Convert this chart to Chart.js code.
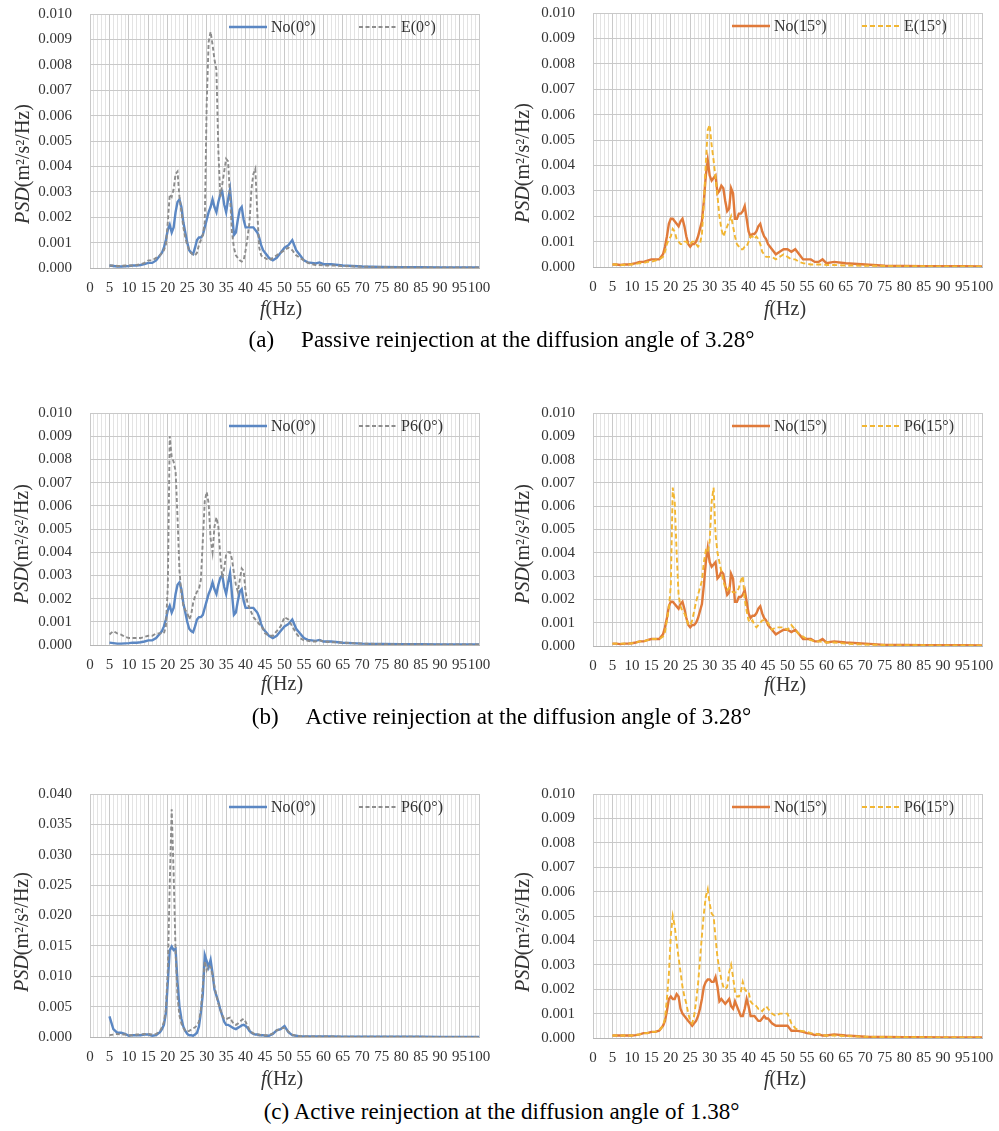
<!DOCTYPE html>
<html>
<head>
<meta charset="utf-8">
<script src="https://cdn.jsdelivr.net/npm/chart.js@4.4.0/dist/chart.umd.min.js"></script>
<style>
  html, body { margin: 0; padding: 0; background: #fff; }
  #page { position: relative; width: 999px; height: 1131px; overflow: hidden;
          font-family: "Liberation Serif", "Times New Roman", serif; color: #000; }
  #page canvas { position: absolute; display: block; }
  .ytitle { position: absolute; font-size: 20px; white-space: nowrap; color: #333;
            transform: translate(-50%, -50%) rotate(-90deg); }
  .xtitle { position: absolute; font-size: 20px; white-space: nowrap; color: #333;
            transform: translate(-50%, -50%); }
  .cap { position: absolute; left: 2px; width: 999px; text-align: center; font-size: 23px;
         white-space: nowrap; transform: translateY(-50%); }
  .gap { display: inline-block; width: 27px; }
</style>
</head>
<body>
<div id="page">
  <canvas id="cA0"></canvas><canvas id="cA15"></canvas>
  <canvas id="cB0"></canvas><canvas id="cB15"></canvas>
  <canvas id="cC0"></canvas><canvas id="cC15"></canvas>

  <div class="ytitle" style="left:22px;top:164px"><i>PSD</i>(m²/s²/Hz)</div>
  <div class="ytitle" style="left:522px;top:163px"><i>PSD</i>(m²/s²/Hz)</div>
  <div class="ytitle" style="left:21px;top:544px"><i>PSD</i>(m²/s²/Hz)</div>
  <div class="ytitle" style="left:522px;top:544px"><i>PSD</i>(m²/s²/Hz)</div>
  <div class="ytitle" style="left:21px;top:932px"><i>PSD</i>(m²/s²/Hz)</div>
  <div class="ytitle" style="left:522px;top:932px"><i>PSD</i>(m²/s²/Hz)</div>

  <div class="xtitle" style="left:281px;top:308px"><i>f</i>(Hz)</div>
  <div class="xtitle" style="left:785px;top:308px"><i>f</i>(Hz)</div>
  <div class="xtitle" style="left:282px;top:683px"><i>f</i>(Hz)</div>
  <div class="xtitle" style="left:785px;top:684px"><i>f</i>(Hz)</div>
  <div class="xtitle" style="left:282px;top:1078px"><i>f</i>(Hz)</div>
  <div class="xtitle" style="left:785px;top:1078px"><i>f</i>(Hz)</div>

  <div class="cap" style="top:340px">(a)<span class="gap"></span>Passive reinjection at the diffusion angle of 3.28°</div>
  <div class="cap" style="top:717px">(b)<span class="gap"></span>Active reinjection at the diffusion angle of 3.28°</div>
  <div class="cap" style="top:1112px">(c) Active reinjection at the diffusion angle of 1.38°</div>
</div>

<script>
// Frequency grid shared by every PSD series (Hz)
const FREQ = [
  5, 6, 7, 8, 9, 10, 11, 12, 13, 14, 15, 16, 17, 18,
  18.5, 19, 19.5, 20, 20.5, 21, 21.5, 22, 22.5, 23, 23.5, 24, 24.5, 25, 25.5, 26, 26.5, 27, 27.5, 28, 28.5, 29, 29.5, 30, 30.5, 31, 31.5,
  32, 32.5, 33, 33.5, 34, 34.5, 35, 35.5, 36, 36.5, 37, 37.5, 38, 38.5, 39, 39.5, 40, 40.5, 41, 41.5, 42, 42.5, 43, 43.5, 44, 44.5, 45,
  46, 47, 48, 49, 50, 51, 52, 53, 54, 55, 56, 57, 58, 59, 60,
  62, 65, 70, 75, 80, 85, 90, 95, 100
];

// Tick values
const X_TICKS = [0, 5, 10, 15, 20, 25, 30, 35, 40, 45, 50, 55, 60, 65, 70, 75, 80, 85, 90, 95, 100];
const Y_TICKS_010 = [0, 0.001, 0.002, 0.003, 0.004, 0.005, 0.006, 0.007, 0.008, 0.009, 0.010];
const Y_TICKS_040 = [0, 0.005, 0.010, 0.015, 0.020, 0.025, 0.030, 0.035, 0.040];

// No reinjection, 0° (diffusion angle 3.28°)
const NO_0 = [
  0.0001, 0.00008, 0.00006, 0.00006, 0.00007, 0.00008, 0.0001, 0.0001, 0.00012, 0.00015, 0.0002, 0.0002, 0.0003, 0.0005,
  0.0006, 0.0008, 0.0011, 0.0015, 0.0017, 0.0014, 0.0016, 0.0022, 0.0026, 0.0027, 0.0024, 0.0018, 0.0014, 0.001, 0.0007, 0.0006, 0.00055, 0.0008, 0.0011, 0.0012, 0.0012, 0.0013, 0.0016, 0.0019, 0.0022, 0.0024, 0.0027,
  0.0024, 0.0022, 0.0026, 0.0029, 0.003, 0.0025, 0.0022, 0.0027, 0.0031, 0.0022, 0.0013, 0.0014, 0.0019, 0.0023, 0.0024, 0.0019, 0.0016, 0.0016, 0.0016, 0.0016, 0.0016, 0.0015, 0.0014, 0.0012, 0.0009, 0.0007, 0.0006,
  0.0004, 0.0003, 0.0004, 0.0006, 0.0008, 0.0009, 0.0011, 0.0007, 0.0005, 0.0003, 0.00022, 0.0002, 0.00018, 0.00022, 0.00015,
  0.00015, 0.0001, 0.00006, 0.00004, 0.00003, 0.00003, 0.00002, 0.00002, 0.00002
];

// Passive reinjection E, 0°
const E_0 = [
  0.0001, 0.0001, 0.00008, 0.00008, 0.0001, 0.0001, 0.0001, 0.00012, 0.00015, 0.0002, 0.0003, 0.0003, 0.0004, 0.0005,
  0.0006, 0.0007, 0.0009, 0.0018, 0.0029, 0.0028, 0.0031, 0.0037, 0.0038, 0.0028, 0.0022, 0.0016, 0.0012, 0.0009, 0.0007, 0.0006, 0.0005, 0.0005, 0.0006, 0.0009, 0.0011, 0.0013, 0.0018, 0.0065, 0.0089, 0.0093, 0.0088,
  0.0082, 0.0078, 0.0046, 0.0028, 0.0033, 0.0038, 0.0043, 0.0042, 0.0028, 0.0014, 0.0008, 0.0005, 0.0004, 0.0003, 0.00025, 0.0003, 0.0007, 0.0012, 0.0018, 0.0031, 0.0037, 0.0039, 0.0022, 0.0008, 0.0005, 0.0004, 0.0004,
  0.0003, 0.0004, 0.0005, 0.0006, 0.0007, 0.0008, 0.0007, 0.0005, 0.0004, 0.0003, 0.0002, 0.00015, 0.00012, 0.00012, 0.0001,
  0.0001, 0.00008, 0.00005, 0.00004, 0.00003, 0.00002, 0.00002, 0.00002, 0.00002
];

// No reinjection, 15° (diffusion angle 3.28°)
const NO_15 = [
  0.0001, 0.0001, 0.00008, 0.0001, 0.0001, 0.00012, 0.00015, 0.0002, 0.0002, 0.00025, 0.0003, 0.0003, 0.0003, 0.0005,
  0.0008, 0.0012, 0.0017, 0.0019, 0.0019, 0.0018, 0.0017, 0.0016, 0.0018, 0.0019, 0.0016, 0.0012, 0.0009, 0.0008, 0.0009, 0.0009, 0.001, 0.0012, 0.0015, 0.0018, 0.0026, 0.0036, 0.0042, 0.0036, 0.0034, 0.0035, 0.0036,
  0.0029, 0.003, 0.0032, 0.0031, 0.0026, 0.0022, 0.0023, 0.0031, 0.0029, 0.0019, 0.0019, 0.0021, 0.0021, 0.0022, 0.0024, 0.0019, 0.0014, 0.0012, 0.0013, 0.0013, 0.0014, 0.0016, 0.0017, 0.0014, 0.0012, 0.0011, 0.0009,
  0.0007, 0.0005, 0.0006, 0.0007, 0.0007, 0.0006, 0.0007, 0.0005, 0.0003, 0.0003, 0.0003, 0.0002, 0.0002, 0.0003, 0.00015,
  0.0002, 0.00015, 0.0001, 0.00005, 0.00004, 0.00003, 0.00003, 0.00003, 0.00002
];

// Passive reinjection E, 15°
const E_15 = [
  0.0001, 0.0001, 0.00008, 0.00008, 0.0001, 0.0001, 0.00012, 0.00015, 0.00015, 0.0002, 0.0002, 0.00025, 0.0003, 0.0004,
  0.0006, 0.0009, 0.0011, 0.0012, 0.0015, 0.0014, 0.0011, 0.001, 0.0009, 0.0009, 0.001, 0.001, 0.0009, 0.0009, 0.001, 0.001, 0.0009, 0.0008, 0.0009, 0.0013, 0.0025, 0.0041, 0.0054, 0.0056, 0.0048, 0.0042, 0.0035,
  0.0028, 0.002, 0.0015, 0.0012, 0.0014, 0.0016, 0.0018, 0.002, 0.0016, 0.0012, 0.0009, 0.0008, 0.0007, 0.0007, 0.0008, 0.0008, 0.001, 0.0012, 0.0012, 0.0011, 0.0012, 0.0011, 0.0009, 0.0006, 0.0005, 0.0004, 0.0004,
  0.0004, 0.0003, 0.0004, 0.0005, 0.0004, 0.0003, 0.0003, 0.0002, 0.00015, 0.00013, 0.0001, 0.0001, 0.0001, 0.0001, 0.00008,
  0.00008, 0.00006, 0.00005, 0.00004, 0.00003, 0.00003, 0.00002, 0.00002, 0.00002
];

// Active reinjection P6, 0° (diffusion angle 3.28°)
const P6_0_A328 = [
  0.00045, 0.0006, 0.0005, 0.00045, 0.00035, 0.0003, 0.0003, 0.0003, 0.0003, 0.00035, 0.0004, 0.0004, 0.0005, 0.0005,
  0.0005, 0.0005, 0.0008, 0.0025, 0.009, 0.0081, 0.0079, 0.0075, 0.0055, 0.0032, 0.0022, 0.0017, 0.0015, 0.0014, 0.0011, 0.0013, 0.0018, 0.0021, 0.0023, 0.0024, 0.0028, 0.0045, 0.0062, 0.0066, 0.0061, 0.0046, 0.004,
  0.0051, 0.0055, 0.0051, 0.0038, 0.0029, 0.0033, 0.0039, 0.004, 0.004, 0.0037, 0.0031, 0.0026, 0.0023, 0.0028, 0.0033, 0.0032, 0.0023, 0.0018, 0.0016, 0.0014, 0.0012, 0.0011, 0.001, 0.0009, 0.0008, 0.0007, 0.0005,
  0.0004, 0.0004, 0.0006, 0.0008, 0.0012, 0.0011, 0.0008, 0.0005, 0.0003, 0.0002, 0.00018, 0.00015, 0.00015, 0.0002, 0.00015,
  0.00012, 0.0001, 0.00006, 0.00004, 0.00003, 0.00003, 0.00002, 0.00002, 0.00002
];

// Active reinjection P6, 15° (diffusion angle 3.28°)
const P6_15_A328 = [
  0.0001, 0.0001, 0.0001, 0.0001, 0.0001, 0.00012, 0.00015, 0.0002, 0.0002, 0.00025, 0.0003, 0.0003, 0.0003, 0.0004,
  0.0006, 0.0011, 0.0016, 0.0026, 0.0068, 0.0062, 0.004, 0.0022, 0.0017, 0.0015, 0.0014, 0.0012, 0.0009, 0.0009, 0.0011, 0.0015, 0.0019, 0.0022, 0.0025, 0.0028, 0.0036, 0.0041, 0.004, 0.0045, 0.0062, 0.0068, 0.0048,
  0.004, 0.0036, 0.0032, 0.0028, 0.0025, 0.0024, 0.0025, 0.0024, 0.0023, 0.0023, 0.0023, 0.0025, 0.0028, 0.003, 0.002, 0.0015, 0.0011, 0.001, 0.0011, 0.0009, 0.0008, 0.0009, 0.001, 0.0011, 0.0011, 0.001, 0.001,
  0.0007, 0.0008, 0.0008, 0.0008, 0.0007, 0.0009, 0.0007, 0.0005, 0.0004, 0.0003, 0.00025, 0.0002, 0.0002, 0.00018, 0.00015,
  0.00015, 0.0001, 0.00006, 0.00004, 0.00003, 0.00003, 0.00002, 0.00002, 0.00002
];

// No reinjection, 0° (diffusion angle 1.38°)
const NO_0_A138 = [
  0.0034, 0.0013, 0.0007, 0.0007, 0.0005, 0.0002, 0.0003, 0.0003, 0.0003, 0.0004, 0.0004, 0.0002, 0.0003, 0.0008,
  0.0013, 0.002, 0.0039, 0.009, 0.0143, 0.0149, 0.0143, 0.0145, 0.009, 0.005, 0.003, 0.0017, 0.001, 0.0005, 0.0003, 0.0003, 0.0002, 0.0004, 0.0007, 0.0017, 0.004, 0.007, 0.0135, 0.0125, 0.0115, 0.0127, 0.0105,
  0.0078, 0.0068, 0.0058, 0.0045, 0.0035, 0.0025, 0.002, 0.002, 0.0018, 0.0016, 0.0014, 0.0013, 0.0015, 0.0017, 0.0019, 0.002, 0.0018, 0.0015, 0.001, 0.0007, 0.0005, 0.0004, 0.0004, 0.0003, 0.0003, 0.0003, 0.0002,
  0.0002, 0.0005, 0.0011, 0.0013, 0.0018, 0.0008, 0.0003, 0.0002, 0.0001, 0.0001, 0.0001, 0.0001, 0.0001, 0.0001, 0.0001,
  0.00008, 0.00006, 0.00005, 0.00004, 0.00003, 0.00003, 0.00002, 0.00002, 0.00002
];

// Active reinjection P6, 0° (diffusion angle 1.38°)
const P6_0_A138 = [
  0.0003, 0.0004, 0.0005, 0.0004, 0.0004, 0.0003, 0.0003, 0.0004, 0.0004, 0.0005, 0.0005, 0.0004, 0.0005, 0.001,
  0.0016, 0.0025, 0.0045, 0.011, 0.025, 0.0375, 0.027, 0.014, 0.0065, 0.0035, 0.0022, 0.0015, 0.001, 0.0009, 0.001, 0.0012, 0.0014, 0.0016, 0.0019, 0.0025, 0.0045, 0.0085, 0.0125, 0.011, 0.0118, 0.0115, 0.0102,
  0.0083, 0.0068, 0.0055, 0.0045, 0.0036, 0.003, 0.0029, 0.0031, 0.0032, 0.0026, 0.0021, 0.002, 0.0022, 0.0025, 0.0028, 0.003, 0.0025, 0.0018, 0.0012, 0.0008, 0.0006, 0.0005, 0.0004, 0.0004, 0.0003, 0.0003, 0.0003,
  0.0003, 0.0006, 0.0011, 0.0014, 0.0015, 0.0009, 0.0004, 0.0002, 0.00015, 0.0001, 0.0001, 0.0001, 0.0001, 0.0001, 0.0001,
  0.00008, 0.00006, 0.00005, 0.00004, 0.00003, 0.00003, 0.00002, 0.00002, 0.00002
];

// No reinjection, 15° (diffusion angle 1.38°)
const NO_15_A138 = [
  0.0001, 0.0001, 0.0001, 0.0001, 0.0001, 0.0001, 0.00012, 0.00015, 0.0002, 0.0002, 0.00025, 0.00025, 0.0003, 0.0005,
  0.0007, 0.0011, 0.0016, 0.0017, 0.0016, 0.0016, 0.0018, 0.0017, 0.0012, 0.001, 0.0009, 0.0008, 0.0007, 0.0006, 0.0005, 0.0006, 0.0007, 0.0009, 0.0012, 0.0016, 0.0021, 0.0023, 0.0024, 0.0024, 0.0023, 0.0023, 0.0025,
  0.0021, 0.0015, 0.0016, 0.0015, 0.0014, 0.0015, 0.0016, 0.0013, 0.0012, 0.0015, 0.0013, 0.0011, 0.0009, 0.0009, 0.0012, 0.0016, 0.0013, 0.0009, 0.0009, 0.0009, 0.0008, 0.0007, 0.0007, 0.0008, 0.0009, 0.0008, 0.0008,
  0.0006, 0.0005, 0.0005, 0.0005, 0.0005, 0.0003, 0.0003, 0.00028, 0.00025, 0.0002, 0.00018, 0.00012, 0.00015, 0.0001, 0.0001,
  0.00015, 0.0001, 0.00005, 0.00004, 0.00003, 0.00003, 0.00002, 0.00002, 0.00002
];

// Active reinjection P6, 15° (diffusion angle 1.38°)
const P6_15_A138 = [
  0.0001, 0.0001, 0.0001, 0.0001, 0.0001, 0.0001, 0.00012, 0.00015, 0.0002, 0.0002, 0.00025, 0.00025, 0.0003, 0.0005,
  0.0008, 0.0016, 0.0026, 0.0042, 0.005, 0.0046, 0.0039, 0.0033, 0.0027, 0.0021, 0.0017, 0.0014, 0.001, 0.0007, 0.0006, 0.0009, 0.0015, 0.0022, 0.0032, 0.0042, 0.0051, 0.0058, 0.0061, 0.0055, 0.0051, 0.005, 0.0041,
  0.0033, 0.0028, 0.0024, 0.0021, 0.002, 0.0021, 0.0027, 0.003, 0.0025, 0.0019, 0.0017, 0.0017, 0.0019, 0.0023, 0.002, 0.0019, 0.0019, 0.0015, 0.0014, 0.0014, 0.0013, 0.0012, 0.0012, 0.0011, 0.0012, 0.0013, 0.0012,
  0.001, 0.0009, 0.001, 0.001, 0.001, 0.0006, 0.0004, 0.0003, 0.00028, 0.00025, 0.0002, 0.00018, 0.00015, 0.00012, 0.0001,
  0.0001, 0.00008, 0.00005, 0.00004, 0.00003, 0.00003, 0.00002, 0.00002, 0.00002
];

// Series styles
const BLUE = '#5b87c3', GREY = '#8c8c8c', ORANGE = '#e07a3a', GOLD = '#f2b632';
const TEXT = '#333333', GRID = '#c9c9c9', GRID_MINOR = '#e3e3e3';
const TICK_FONT = { family: '"Liberation Serif", "Times New Roman", serif', size: 15 };

// Legend drawn inside the plot area, one sample line plus label per dataset
const inlineLegend = {
  id: 'inlineLegend',
  afterDatasetsDraw(chart) {
    const { ctx, chartArea } = chart;
    const offsets = [139, 269];
    ctx.save();
    ctx.font = '16px "Liberation Serif", "Times New Roman", serif';
    ctx.textBaseline = 'middle';
    chart.data.datasets.forEach((ds, i) => {
      const x = chartArea.left + offsets[i];
      const y = chartArea.top + 13;
      ctx.strokeStyle = ds.borderColor;
      ctx.lineWidth = ds.borderWidth;
      ctx.setLineDash(ds.borderDash || []);
      ctx.beginPath();
      ctx.moveTo(x, y);
      ctx.lineTo(x + 38, y);
      ctx.stroke();
      ctx.setLineDash([]);
      ctx.fillStyle = TEXT;
      ctx.fillText(ds.label, x + 42, y + 1);
    });
    ctx.restore();
  }
};

function series(values) {
  return FREQ.map((f, i) => ({ x: f, y: values[i] }));
}

function psdChart(id, box, yTicks, base, test) {
  const canvas = document.getElementById(id);
  const padTop = 10, xAxisH = 34, width = 499;
  const height = padTop + (box.b - box.t) + xAxisH;
  canvas.width = width;
  canvas.height = height;
  canvas.style.left = box.x0 + 'px';
  canvas.style.top = (box.t - padTop) + 'px';
  canvas.style.width = width + 'px';
  canvas.style.height = height + 'px';

  return new Chart(canvas, {
    type: 'line',
    data: {
      datasets: [
        { label: base.label, data: series(base.values), borderColor: base.color,
          borderWidth: 2.4, pointRadius: 0, tension: 0, order: 1 },
        { label: test.label, data: series(test.values), borderColor: test.color,
          borderWidth: 1.9, borderDash: test.dash, pointRadius: 0, tension: 0, order: 0 }
      ]
    },
    options: {
      responsive: false,
      animation: false,
      devicePixelRatio: 1,
      layout: { padding: { top: padTop, left: 0, bottom: 0, right: (box.x0 + width) - box.r } },
      plugins: { legend: { display: false }, tooltip: { enabled: false } },
      scales: {
        x: {
          type: 'linear', position: 'bottom', min: 0, max: 100,
          afterBuildTicks: s => { s.ticks = X_TICKS.map(v => ({ value: v })); },
          ticks: { autoSkip: false, maxRotation: 0, minRotation: 0, padding: 11,
                   color: TEXT, font: TICK_FONT, callback: v => String(v) },
          grid: { color: GRID, lineWidth: 1, drawTicks: false },
          border: { color: '#b5b5b5', width: 1 },
          afterFit: s => { s.height = xAxisH; s.paddingLeft = 0; s.paddingRight = 0; }
        },
        xMinor: {
          type: 'linear', position: 'bottom', min: 0, max: 100,
          ticks: { display: false, stepSize: 1, maxTicksLimit: 101, autoSkip: false },
          grid: { color: c => (c.tick && c.tick.value % 5 === 0) ? 'rgba(0,0,0,0)' : GRID_MINOR,
                  lineWidth: 1, drawTicks: false },
          border: { display: false },
          afterFit: s => { s.height = 0; s.paddingLeft = 0; s.paddingRight = 0; }
        },
        y: {
          type: 'linear', position: 'left', min: 0, max: yTicks[yTicks.length - 1],
          afterBuildTicks: s => { s.ticks = yTicks.map(v => ({ value: v })); },
          ticks: { padding: 18, color: TEXT, font: TICK_FONT, callback: v => Number(v).toFixed(3) },
          grid: { color: GRID, lineWidth: 1, drawTicks: false },
          border: { display: false },
          afterFit: s => { s.width = box.l - box.x0; s.paddingTop = 0; s.paddingBottom = 0; }
        }
      }
    },
    plugins: [inlineLegend]
  });
}

psdChart('cA0',  { x0: 0,   l: 90,  r: 479, t: 14,  b: 268 },  Y_TICKS_010,
  { label: 'No(0°)', values: NO_0, color: BLUE },
  { label: 'E(0°)', values: E_0, color: GREY, dash: [4, 2.5] });
psdChart('cA15', { x0: 500, l: 593, r: 982, t: 13,  b: 267 },  Y_TICKS_010,
  { label: 'No(15°)', values: NO_15, color: ORANGE },
  { label: 'E(15°)', values: E_15, color: GOLD, dash: [5, 3] });
psdChart('cB0',  { x0: 0,   l: 90,  r: 479, t: 413, b: 645 },  Y_TICKS_010,
  { label: 'No(0°)', values: NO_0, color: BLUE },
  { label: 'P6(0°)', values: P6_0_A328, color: GREY, dash: [4, 2.5] });
psdChart('cB15', { x0: 500, l: 593, r: 982, t: 413, b: 646 },  Y_TICKS_010,
  { label: 'No(15°)', values: NO_15, color: ORANGE },
  { label: 'P6(15°)', values: P6_15_A328, color: GOLD, dash: [5, 3] });
psdChart('cC0',  { x0: 0,   l: 90,  r: 479, t: 794, b: 1037 }, Y_TICKS_040,
  { label: 'No(0°)', values: NO_0_A138, color: BLUE },
  { label: 'P6(0°)', values: P6_0_A138, color: GREY, dash: [4, 2.5] });
psdChart('cC15', { x0: 500, l: 593, r: 982, t: 794, b: 1038 }, Y_TICKS_010,
  { label: 'No(15°)', values: NO_15_A138, color: ORANGE },
  { label: 'P6(15°)', values: P6_15_A138, color: GOLD, dash: [5, 3] });
</script>
</body>
</html>
